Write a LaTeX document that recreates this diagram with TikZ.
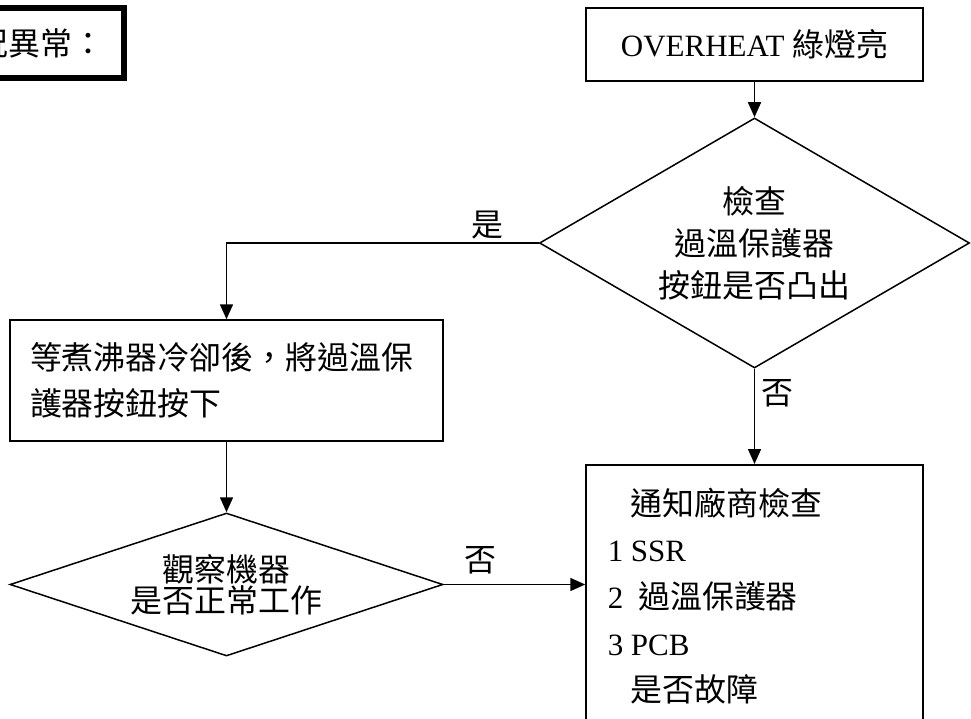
\documentclass[tikz,border=0pt]{standalone}
\usepackage{fontspec}
\setmainfont{Liberation Serif}
\newfontfamily\cjk[Scale=1.03]{Noto Sans CJK TC}
\usetikzlibrary{shapes.geometric,arrows.meta}
\newcommand\C[1]{{\cjk #1}}
\begin{document}
\begin{tikzpicture}[x=1pt,y=-1pt, line width=1.5pt,
  font=\fontsize{31}{36}\selectfont,
  box/.style={draw, rectangle, inner sep=0pt},
  dec/.style={draw, diamond, inner sep=0pt, align=center},
  arr/.style={-{Triangle[length=15pt,width=13pt]}},
  lbl/.style={inner sep=0pt}]
\useasboundingbox (0,0) rectangle (971,719);
\clip (0,0) rectangle (971,719);

\node[box, line width=6pt, anchor=east, minimum height=70pt, inner xsep=19pt] (state) at (126.5,43.5) {\C{狀況異常：}};

\node[box, minimum width=337pt, minimum height=73pt] (over) at (754.5,44.5) {OVERHEAT \C{綠燈亮}};

\node[dec, shape aspect=1.72, minimum width=430pt, minimum height=250pt,
      font=\fontsize{31}{42}\selectfont] (chk) at (754.5,243) {\C{檢查}\\\C{過溫保護器}\\\C{按鈕是否凸出}};

\node[box, minimum width=433pt, minimum height=121pt, inner xsep=20pt, text width=393pt,
      align=left, font=\fontsize{31}{46}\selectfont] (cool) at (226.5,380.5)
      {\C{等煮沸器冷卻後，將過溫保}\\\C{護器按鈕按下}};

\node[dec, shape aspect=3, minimum width=433pt, minimum height=143pt,
      font=\fontsize{31}{31}\selectfont] (obs) at (226.5,584.5) {\C{觀察機器}\\\C{是否正常工作}};

\node[box, anchor=north, minimum width=337pt, minimum height=300pt] (notify) at (754.5,464) {};
\node[anchor=north west, align=left, inner sep=0pt, font=\fontsize{31}{46.7}\selectfont] (ntext) at (607,487)
  {\hspace*{23pt}\C{通知廠商檢查}\\1 SSR\\2\hspace*{15pt}\C{過溫保護器}\\3 PCB\\\hspace*{23pt}\C{是否故障}};

\draw[arr] (over.south) -- (chk.north);
\draw[arr] (chk.west) -| (cool.north);
\draw[arr] (cool.south) -- (obs.north);
\draw[arr] (obs.east) -- (obs.east -| notify.west);
\draw[arr] (chk.south) -- (notify.north);

\node[lbl] (yes) at (487,225) {\C{是}};
\node[lbl] (no1) at (480,560) {\C{否}};
\node[lbl] (no2) at (777,393) {\C{否}};
\end{tikzpicture}
\end{document}
